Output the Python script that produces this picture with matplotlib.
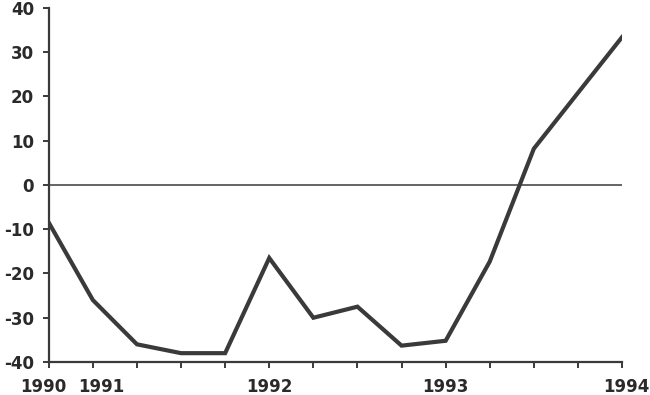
import matplotlib
matplotlib.use("Agg")
import matplotlib.pyplot as plt
from matplotlib.transforms import ScaledTranslation

# Quarterly values, first point at the 1990 label
quarters = list(range(14))
values = [-8.5, -26, -36, -38, -38, -16.5, -30, -27.5, -36.3, -35.2, -17.3, 8.2, 20.8, 33.4]
tick_pos = [0, 1, 5, 9, 13]
tick_labels = ["1990", "1991", "1992", "1993", "1994"]
yticks = [-40, -30, -20, -10, 0, 10, 20, 30, 40]

plt.rcParams["font.family"] = ["DejaVu Sans"]
plt.rcParams["axes.unicode_minus"] = False
fig = plt.figure(figsize=(6.5, 3.95), dpi=100)
ax = fig.add_axes([0.075, 0.0835, 0.882, 0.8965])

ink = "#3a3a3a"
ax.axhline(0, color=ink, lw=1.1)
ax.plot(quarters, values, color=ink, lw=3, solid_joinstyle="miter")

ax.set_xlim(0, 13)
ax.set_ylim(-40, 40)
ax.set_yticks(yticks)
ax.set_xticks(quarters, minor=True)
ax.set_xticks(tick_pos)
ax.set_xticklabels(tick_labels)

for s in ["top", "right"]:
    ax.spines[s].set_visible(False)
for s in ["left", "bottom"]:
    ax.spines[s].set_color(ink)
    ax.spines[s].set_linewidth(1.6)

ax.tick_params(axis="both", which="both", color=ink, width=1.4, length=4.5,
               labelsize=12, labelcolor="#2a2a2a")
ax.tick_params(axis="x", which="major", pad=7)
ax.tick_params(axis="y", pad=6)
for lbl in ax.get_xticklabels() + ax.get_yticklabels():
    lbl.set_fontweight("bold")

# the first two year labels sit slightly apart in the original
xl = ax.get_xticklabels()
xl[0].set_transform(xl[0].get_transform() + ScaledTranslation(-5 / 100, 0, fig.dpi_scale_trans))
xl[1].set_transform(xl[1].get_transform() + ScaledTranslation(8 / 100, 0, fig.dpi_scale_trans))
xl[4].set_transform(xl[4].get_transform() + ScaledTranslation(4 / 100, 0, fig.dpi_scale_trans))

fig.savefig("out.png", dpi=100)
